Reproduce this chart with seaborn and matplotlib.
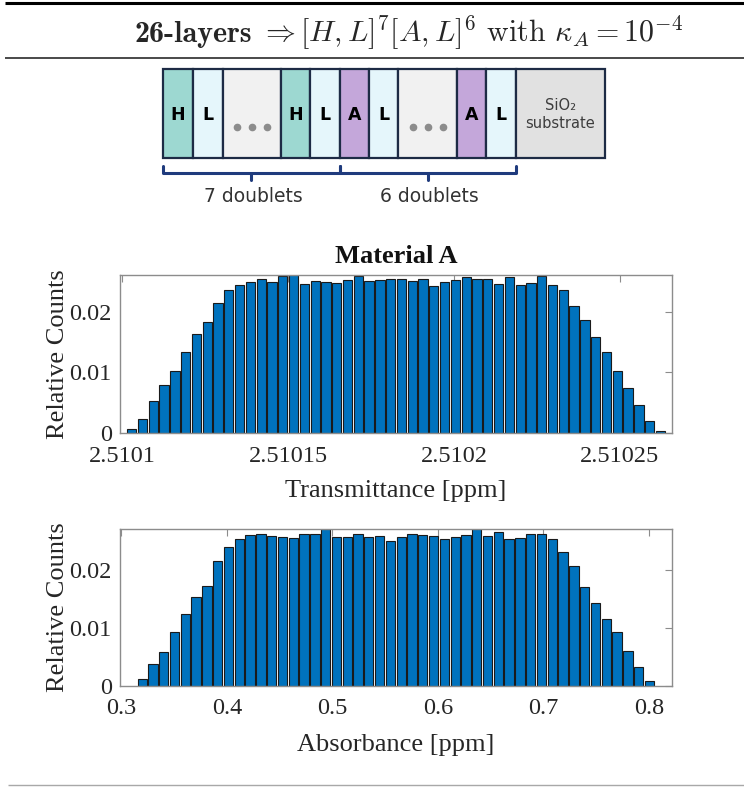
import numpy as np
import pandas as pd
import matplotlib
matplotlib.use("Agg")
import matplotlib.pyplot as plt
import seaborn as sns
from matplotlib.patches import Rectangle
from matplotlib.ticker import FixedLocator, FixedFormatter

# ---------------- histogram data (relative counts per bin) ----------------
trans_counts = [0.0007, 0.0023, 0.0053, 0.0079, 0.0102, 0.0134, 0.0163, 0.0184, 0.0214, 0.0237,
                0.0244, 0.0249, 0.0254, 0.0250, 0.0259, 0.0261, 0.0246, 0.0251, 0.0249, 0.0247,
                0.0253, 0.0260, 0.0251, 0.0253, 0.0255, 0.0255, 0.0251, 0.0255, 0.0243, 0.0249,
                0.0252, 0.0258, 0.0254, 0.0255, 0.0246, 0.0257, 0.0245, 0.0247, 0.0260, 0.0245,
                0.0237, 0.0209, 0.0186, 0.0159, 0.0133, 0.0102, 0.0075, 0.0046, 0.0020, 0.0004]
trans_bin_start = 2.5101012
trans_bin_width = 3.253e-6
trans_xlim = (2.5100993, 2.5102657)
trans_ticks = [2.5101, 2.51015, 2.5102, 2.51025]
trans_ticklabels = ["2.5101", "2.51015", "2.5102", "2.51025"]

abs_counts = [0.0012, 0.0038, 0.0059, 0.0093, 0.0124, 0.0154, 0.0172, 0.0215, 0.0240, 0.0254,
              0.0260, 0.0263, 0.0259, 0.0258, 0.0256, 0.0263, 0.0263, 0.0271, 0.0258, 0.0258,
              0.0263, 0.0258, 0.0259, 0.0250, 0.0258, 0.0263, 0.0261, 0.0259, 0.0254, 0.0258,
              0.0261, 0.0271, 0.0259, 0.0266, 0.0254, 0.0256, 0.0263, 0.0263, 0.0254, 0.0231,
              0.0207, 0.0171, 0.0144, 0.0115, 0.0093, 0.0061, 0.0033, 0.0008]
abs_bin_start = 0.3145
abs_bin_width = 0.01023
abs_xlim = (0.2986, 0.8218)
abs_ticks = [0.3, 0.4, 0.5, 0.6, 0.7, 0.8]
abs_ticklabels = ["0.3", "0.4", "0.5", "0.6", "0.7", "0.8"]

count_ticks = [0, 0.01, 0.02]
count_ticklabels = ["0", "0.01", "0.02"]

# ---------------- layer stack ----------------
layer_labels = ["H", "L", "dots", "H", "L", "A", "L", "dots", "A", "L", "substrate"]
layer_kinds_color = {"H": "#9dd8d1", "L": "#e5f6fb", "A": "#c4a7da",
                     "dots": "#f1f1f1", "substrate": "#e1e1e1"}
group_labels = ["7 doublets", "6 doublets"]

sns.set_style("white")
plt.rcParams["mathtext.fontset"] = "cm"
plt.rcParams["axes.unicode_minus"] = False

W, H = 744, 787
fig = plt.figure(figsize=(W / 100, H / 100), dpi=100)

# canvas axes in pixel units for the heading and the stack sketch
bg = fig.add_axes([0, 0, 1, 1])
bg.set_xlim(0, W)
bg.set_ylim(H, 0)
bg.axis("off")

bg.plot([5, W], [3, 3], color="black", lw=2.2, solid_capstyle="butt")
bg.plot([5, W], [58, 58], color="#3a3a3a", lw=1.3, solid_capstyle="butt")
bg.plot([8, W], [785, 785], color="#a8a8a8", lw=1.0, solid_capstyle="butt")

# heading: bold "26-layers" followed by the stack formula
fs = 21.6
heading_center = 409
renderer = fig.canvas.get_renderer()
t1 = bg.text(0, 42, "26-layers", fontfamily="cmb10", fontsize=fs,
             va="baseline", ha="left")
t2 = bg.text(0, 42, r"$\Rightarrow [H,L]^7[A,L]^6$ with $\kappa_A = 10^{-4}$",
             fontfamily="cmr10", fontsize=fs, va="baseline", ha="left")
w1 = t1.get_window_extent(renderer).width
w2 = t2.get_window_extent(renderer).width
gap = 8
x0 = heading_center - (w1 + gap + w2) / 2
t1.set_x(x0)
t2.set_x(x0 + w1 + gap)

# stack of layers
edges_px = [163, 193, 223, 281, 310, 339.5, 369, 398, 457, 486, 516, 605]
top_px, bot_px = 69, 158
edge_col = "#1d2b45"
for i, lab in enumerate(layer_labels):
    xa, xb = edges_px[i], edges_px[i + 1]
    bg.add_patch(Rectangle((xa, top_px), xb - xa, bot_px - top_px,
                           facecolor=layer_kinds_color[lab], edgecolor=edge_col, lw=1.6))
    xc = (xa + xb) / 2
    if lab in ("H", "L", "A"):
        bg.text(xc, 115, lab, ha="center", va="center", fontsize=12.5,
                fontweight="bold", family="DejaVu Sans", color="black")
    elif lab == "dots":
        bg.plot([xc - 15, xc, xc + 15], [127, 127, 127], ls="none", marker="o",
                ms=4.5, color="#8c8c8c")
    else:
        bg.text(xc, 106, "SiO₂", ha="center", va="center", fontsize=10.5,
                family="DejaVu Sans", color="#3d3d3d")
        bg.text(xc, 124, "substrate", ha="center", va="center", fontsize=10.5,
                family="DejaVu Sans", color="#3d3d3d")

# braces under the two doublet groups
brace_col = "#1f3b7d"
for (xa, xb), lab in zip([(163, 339.5), (339.5, 516)], group_labels):
    xm = (xa + xb) / 2
    bg.plot([xa, xa, xb, xb], [166, 173, 173, 166], color=brace_col, lw=2.2,
            solid_joinstyle="round")
    bg.plot([xm, xm], [173, 180], color=brace_col, lw=2.2)
    bg.text(xm + 2, 197, lab, ha="center", va="center", fontsize=13.5,
            family="DejaVu Sans", color="#333333")

# ---------------- histograms ----------------
serif = "Liberation Serif"
bar_face = "#0072BD"
bar_edge = "#1a1a1a"
frame_col = "#8c8c8c"


def draw_hist(ax, counts, start, width, xlim, ticks, ticklabels, xlabel, label_y):
    counts = np.asarray(counts, dtype=float)
    edges = start + width * np.arange(len(counts) + 1)
    centers = (edges[:-1] + edges[1:]) / 2
    df = pd.DataFrame({"value": centers, "share": counts})
    sns.histplot(data=df, x="value", weights="share", bins=edges.tolist(), shrink=0.86,
                 color=bar_face, edgecolor=bar_edge, linewidth=0.8, alpha=1.0, ax=ax)
    ax.set_xlim(*xlim)
    ax.set_ylim(0, counts.max())
    ax.xaxis.set_major_locator(FixedLocator(ticks))
    ax.xaxis.set_major_formatter(FixedFormatter(ticklabels))
    ax.yaxis.set_major_locator(FixedLocator(count_ticks))
    ax.yaxis.set_major_formatter(FixedFormatter(count_ticklabels))
    ax.tick_params(direction="in", top=True, right=True, length=5, width=0.8,
                   color=frame_col, labelsize=17.5, labelcolor="#262626")
    ax.tick_params(axis="x", pad=9)
    ax.tick_params(axis="y", pad=6)
    for lbl in ax.get_xticklabels() + ax.get_yticklabels():
        lbl.set_family(serif)
    for sp in ax.spines.values():
        sp.set_color(frame_col)
        sp.set_linewidth(1.0)
        sp.set_visible(True)
    ax.set_xlabel(xlabel, fontsize=19, family=serif, color="#262626")
    ax.set_ylabel("Relative Counts", fontsize=19, family=serif, color="#262626")
    ax.xaxis.set_label_coords(0.5, label_y)
    ax.xaxis.label.set_va("center")
    ax.yaxis.set_label_coords(-0.113, 0.5)
    ax.yaxis.label.set_va("center")


ax1 = fig.add_axes([120 / W, 1 - 433 / H, 552 / W, 158 / H])
draw_hist(ax1, trans_counts, trans_bin_start, trans_bin_width, trans_xlim,
          trans_ticks, trans_ticklabels, "Transmittance [ppm]", -0.365)
ax1.text(0.5, 1.12, "Material A", transform=ax1.transAxes, ha="center", va="center",
         fontsize=19, fontweight="bold", family=serif, color="#111111")

ax2 = fig.add_axes([120 / W, 1 - 686 / H, 552 / W, 157 / H])
draw_hist(ax2, abs_counts, abs_bin_start, abs_bin_width, abs_xlim,
          abs_ticks, abs_ticklabels, "Absorbance [ppm]", -0.375)

fig.savefig("out.png", dpi=100)
